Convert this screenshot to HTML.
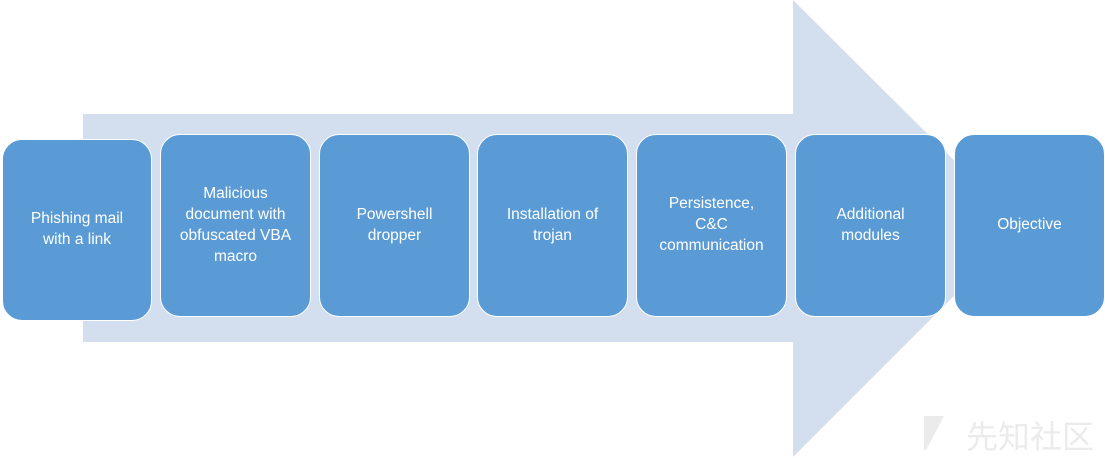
<!DOCTYPE html>
<html><head><meta charset="utf-8"><style>
body{margin:0;width:1105px;height:457px;background:#fff;position:relative;overflow:hidden;font-family:"Liberation Sans","DejaVu Sans",sans-serif}
.b{position:absolute;width:148px;height:180px;background:#5b9bd5;border:1px solid #fff;border-radius:20px;color:#fff;font-size:15.5px;line-height:21px;text-align:center;display:flex;align-items:center;justify-content:center;box-sizing:border-box;padding:0 20px 2px}
.wm{position:absolute;left:966px;top:412px;font-family:"Noto Sans CJK SC",sans-serif;font-size:32px;color:#ebebeb}
</style></head><body>
<svg width="1105" height="457" style="position:absolute;left:0;top:0">
<polygon points="83,114 793,114 793,0 1022,228 793,457 793,342 83,342" fill="#d3deef"/>
<polygon points="924,416 944,416 926,450 924,450" fill="#ebebeb"/>
</svg>
<div class="wm">先知社区</div>
<div class="b" style="left:2px;top:139px;height:182px;width:150px;padding-bottom:2px">Phishing mail with a link</div>
<div class="b" style="left:160px;top:134px;width:151px;height:183px;padding-left:12px;padding-right:12px">Malicious document with obfuscated VBA macro</div>
<div class="b" style="left:319px;top:134px;width:151px;height:183px">Powershell dropper</div>
<div class="b" style="left:477px;top:134px;width:151px;height:183px">Installation of trojan</div>
<div class="b" style="left:636px;top:134px;width:151px;height:183px">Persistence, C&amp;C communication</div>
<div class="b" style="left:795px;top:134px;width:151px;height:183px">Additional modules</div>
<div class="b" style="left:954px;top:134px;width:151px;height:183px">Objective</div>
</body></html>
